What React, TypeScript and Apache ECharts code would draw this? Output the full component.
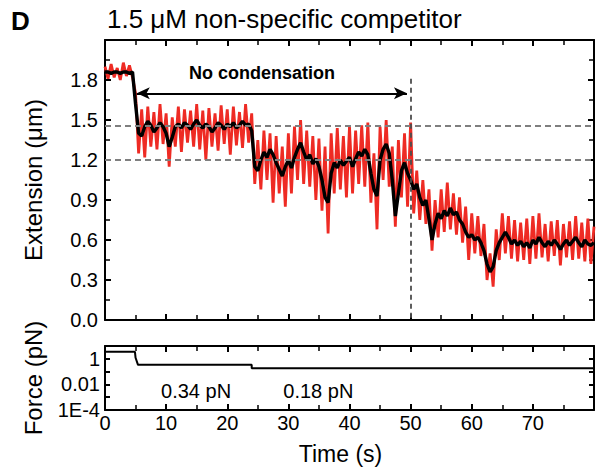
import React, { useEffect, useRef } from "react";
import * as echarts from "echarts";

// Sampling step of the traces (s)
const T_STEP = 0.5;

// Raw extension trace (red), µm, sampled every 0.5 s from 0 to 80 s
const RED_0_5 = [1.90, 1.81, 1.92, 1.82, 1.89, 1.80, 1.93, 1.83, 1.91, 1.82, 1.70, 1.25];
const RED_6_24 = [1.58, 1.22, 1.60, 1.30, 1.56, 1.28, 1.62, 1.32, 1.55, 1.15, 1.52, 1.30, 1.60, 1.26, 1.58, 1.33, 1.57, 1.30, 1.62, 1.28, 1.57, 1.20, 1.59, 1.30, 1.55, 1.27, 1.61, 1.32, 1.58, 1.24, 1.60, 1.31, 1.56, 1.29, 1.62, 1.33, 1.55, 1.02];
const RED_25_50 = [1.35, 0.98, 1.42, 1.05, 1.40, 0.88, 1.38, 0.95, 1.30, 0.85, 1.40, 0.95, 1.45, 1.05, 1.50, 1.02, 1.42, 1.00, 1.38, 0.90, 1.36, 0.82, 1.30, 0.65, 1.40, 0.95, 1.44, 0.98, 1.38, 0.92, 1.45, 0.95, 1.42, 1.02, 1.46, 1.00, 1.48, 0.88, 1.25, 0.68, 1.45, 1.05, 1.50, 1.00, 1.30, 0.70, 1.35, 0.92, 1.40, 0.85];
const RED_50_80 = [1.48, 0.80, 1.12, 0.75, 1.05, 0.72, 0.98, 0.52, 0.90, 0.62, 0.98, 0.66, 1.03, 0.68, 0.95, 0.64, 0.92, 0.58, 0.85, 0.45, 0.80, 0.50, 0.78, 0.48, 0.72, 0.30, 0.50, 0.25, 0.68, 0.45, 0.80, 0.50, 0.78, 0.46, 0.75, 0.44, 0.73, 0.45, 0.76, 0.42, 0.78, 0.46, 0.80, 0.47, 0.72, 0.44, 0.74, 0.48, 0.75, 0.41, 0.72, 0.47, 0.74, 0.45, 0.78, 0.46, 0.73, 0.44, 0.76, 0.42, 0.70];

// Smoothed extension trace (black), µm, sampled every 0.5 s from 0 to 80 s
const BLACK_0_5 = [1.86, 1.86, 1.85, 1.86, 1.86, 1.85, 1.86, 1.86, 1.85, 1.86, 1.62, 1.40];
const BLACK_6_24 = [1.38, 1.45, 1.49, 1.46, 1.41, 1.44, 1.48, 1.45, 1.40, 1.30, 1.37, 1.45, 1.47, 1.44, 1.48, 1.46, 1.43, 1.47, 1.50, 1.46, 1.44, 1.47, 1.45, 1.41, 1.44, 1.48, 1.46, 1.43, 1.47, 1.45, 1.48, 1.44, 1.46, 1.49, 1.46, 1.47, 1.42, 1.15];
const BLACK_25_50 = [1.12, 1.20, 1.26, 1.22, 1.28, 1.24, 1.18, 1.13, 1.08, 1.15, 1.20, 1.14, 1.22, 1.28, 1.33, 1.26, 1.20, 1.24, 1.17, 1.21, 1.15, 1.05, 0.92, 0.88, 1.10, 1.18, 1.14, 1.20, 1.16, 1.19, 1.22, 1.15, 1.21, 1.26, 1.23, 1.28, 1.24, 1.10, 0.98, 0.93, 1.20, 1.28, 1.32, 1.25, 1.05, 0.78, 0.95, 1.12, 1.18, 1.10];
const BLACK_50_80 = [1.05, 0.98, 1.02, 0.92, 0.86, 0.90, 0.76, 0.60, 0.72, 0.80, 0.76, 0.82, 0.78, 0.84, 0.79, 0.81, 0.75, 0.72, 0.66, 0.62, 0.64, 0.60, 0.62, 0.58, 0.52, 0.42, 0.36, 0.40, 0.52, 0.58, 0.62, 0.66, 0.62, 0.57, 0.60, 0.56, 0.59, 0.55, 0.58, 0.54, 0.60, 0.57, 0.62, 0.58, 0.55, 0.59, 0.56, 0.60, 0.57, 0.53, 0.57, 0.60, 0.56, 0.59, 0.62, 0.58, 0.55, 0.60, 0.57, 0.56, 0.58];

const RED = [...RED_0_5, ...RED_6_24, ...RED_25_50, ...RED_50_80];
const BLACK = [...BLACK_0_5, ...BLACK_6_24, ...BLACK_25_50, ...BLACK_50_80];

// Force protocol (time s, force pN)
const FORCE_T = [0, 4.9, 5.0, 5.4, 24.0, 24.0, 80];
const FORCE_V = [3.5, 3.5, 1.2, 0.34, 0.34, 0.18, 0.18];

// Reference levels & annotations
const H_LEVELS = [1.46, 1.2];
const COND_T = 50;
const ARROW = { t0: 5.2, t1: 49.4, y: 1.7 };
const FORCE_LABELS = [
  { name: "0.34 pN", t: 14.9, f: 0.0031 },
  { name: "0.18 pN", t: 34.9, f: 0.0031 },
];

const X_TICKS = [0, 10, 20, 30, 40, 50, 60, 70];
const FONT = "'Liberation Sans', Arial, sans-serif";

export default function App() {
  const ref = useRef<HTMLDivElement>(null);
  useEffect(() => {
    if (!ref.current) return;
    const chart = echarts.init(ref.current, null, { renderer: "svg" });
    const redData = RED.map((v, i) => [i * T_STEP, v]);
    const blackData = BLACK.map((v, i) => [i * T_STEP, v]);
    const forceData = FORCE_T.map((t, i) => [t, FORCE_V[i]]);

    const axLine = { show: true, onZero: false, lineStyle: { color: "#000", width: 2 } };
    const tick = { show: true, inside: true, length: 6, lineStyle: { color: "#000", width: 2 } };
    const minor = { show: true, splitNumber: 2, length: 5, lineStyle: { color: "#000", width: 1.5 } };
    const labelStyle = { color: "#000", fontSize: 20, fontFamily: FONT };

    const xBase = (grid: number, pos: string, showLabel: boolean) => ({
      type: "value",
      gridIndex: grid,
      position: pos,
      min: 0,
      max: 80,
      interval: 10,
      axisLine: axLine,
      axisTick: tick,
      minorTick: minor,
      splitLine: { show: false },
      axisLabel: showLabel
        ? {
            ...labelStyle,
            margin: 3,
            formatter: (v: number) => (X_TICKS.includes(v) ? String(v) : ""),
          }
        : { show: false },
    });

    const logFmt = (v: number) => {
      const e = Math.round(Math.log10(v));
      if (e === -4) return "1E-4";
      if (e === -2) return "0.01";
      if (e === 0) return "1";
      return "";
    };

    chart.setOption({
      animation: false,
      textStyle: { fontFamily: FONT },
      grid: [
        { left: 105, right: 9, top: 40, height: 280 },
        { left: 105, right: 9, top: 346, height: 64 },
      ],
      xAxis: [
        xBase(0, "bottom", false),
        xBase(0, "top", false),
        {
          ...xBase(1, "bottom", true),
          name: "Time (s)",
          nameLocation: "middle",
          nameGap: 32,
          nameTextStyle: { color: "#000", fontSize: 23, fontFamily: FONT, padding: [0, 18, 0, 0] },
        },
        xBase(1, "top", false),
      ],
      yAxis: [
        {
          type: "value",
          gridIndex: 0,
          position: "left",
          min: 0,
          max: 2.1,
          interval: 0.3,
          axisLine: axLine,
          axisTick: tick,
          minorTick: minor,
          splitLine: { show: false },
          axisLabel: { ...labelStyle, margin: 7, formatter: (v: number) => (v > 2 ? "" : v.toFixed(1)) },
          name: "Extension (\u03bcm)",
          nameLocation: "middle",
          nameGap: 60,
          nameTextStyle: { color: "#000", fontSize: 24, fontFamily: FONT },
        },
        {
          type: "value",
          gridIndex: 0,
          position: "right",
          min: 0,
          max: 2.1,
          interval: 0.3,
          axisLine: axLine,
          axisTick: tick,
          minorTick: minor,
          splitLine: { show: false },
          axisLabel: { show: false },
        },
        {
          type: "log",
          logBase: 10,
          gridIndex: 1,
          position: "left",
          min: 1e-4,
          max: 10,
          axisLine: axLine,
          axisTick: { ...tick, length: 5 },
          splitLine: { show: false },
          axisLabel: { ...labelStyle, margin: 5, formatter: logFmt },
          name: "Force (pN)",
          nameLocation: "middle",
          nameGap: 60,
          nameTextStyle: { color: "#000", fontSize: 24, fontFamily: FONT },
        },
        {
          type: "log",
          logBase: 10,
          gridIndex: 1,
          position: "right",
          min: 1e-4,
          max: 10,
          axisLine: axLine,
          axisTick: { ...tick, length: 5 },
          splitLine: { show: false },
          axisLabel: { show: false },
        },
      ],
      series: [
        {
          type: "line",
          name: "raw",
          xAxisIndex: 0,
          yAxisIndex: 0,
          data: redData,
          showSymbol: false,
          symbol: "none",
          lineStyle: { color: "#ee2b24", width: 2.8 },
          markPoint: {
            silent: true,
            symbol: "circle",
            symbolSize: 1,
            itemStyle: { color: "rgba(0,0,0,0)" },
            label: {
              show: true,
              position: "inside",
              color: "#000",
              fontSize: 18,
              fontWeight: "bold",
              fontFamily: FONT,
              formatter: "{b}",
            },
            data: [{ name: "No condensation", coord: [25.7, 1.85] }],
          },
        },
        {
          type: "line",
          name: "smoothed",
          xAxisIndex: 0,
          yAxisIndex: 0,
          data: blackData,
          showSymbol: false,
          symbol: "none",
          lineStyle: { color: "#000", width: 3.4 },
        },
        {
          type: "line",
          name: "guides",
          xAxisIndex: 0,
          yAxisIndex: 0,
          data: [],
          z: 5,
          markLine: {
            silent: true,
            symbol: ["none", "none"],
            label: { show: false },
            data: [
              ...H_LEVELS.map((y) => [
                { coord: [0, y], lineStyle: { color: "#7f7f7f", type: [6, 4], width: 1.8 } },
                { coord: [80, y] },
              ]),
              [
                { coord: [COND_T, 1.81], lineStyle: { color: "#4d4d4d", type: [5, 4], width: 1.8 } },
                { coord: [COND_T, 0] },
              ],
            ],
          },
        },
        {
          type: "line",
          name: "arrow",
          xAxisIndex: 0,
          yAxisIndex: 0,
          data: [],
          markLine: {
            silent: true,
            symbol: ["arrow", "arrow"],
            symbolSize: [9, 13],
            label: { show: false },
            lineStyle: { color: "#000", width: 2, type: "solid" },
            data: [[{ coord: [ARROW.t0, ARROW.y] }, { coord: [ARROW.t1, ARROW.y] }]],
          },
        },
        {
          type: "line",
          name: "force",
          xAxisIndex: 2,
          yAxisIndex: 2,
          data: forceData,
          showSymbol: false,
          symbol: "none",
          lineStyle: { color: "#000", width: 2 },
          markPoint: {
            silent: true,
            symbol: "circle",
            symbolSize: 1,
            itemStyle: { color: "rgba(0,0,0,0)" },
            label: {
              show: true,
              position: "inside",
              color: "#000",
              fontSize: 20,
              fontFamily: FONT,
              formatter: "{b}",
            },
            data: FORCE_LABELS.map((l) => ({ name: l.name, coord: [l.t, l.f] })),
          },
        },
      ],
      graphic: [
        {
          type: "text",
          left: 11,
          top: 8,
          style: { text: "D", fontSize: 26, fontWeight: "bold", fill: "#000", fontFamily: FONT },
        },
        {
          type: "text",
          left: 107,
          top: 6,
          style: {
            text: "1.5 \u03bcM non-specific competitor",
            fontSize: 26,
            fill: "#000",
            fontFamily: FONT,
          },
        },
      ],
    });
    return () => chart.dispose();
  }, []);
  return <div ref={ref} style={{ width: 603, height: 475, position: "absolute", left: 0, top: 0 }} />;
}
